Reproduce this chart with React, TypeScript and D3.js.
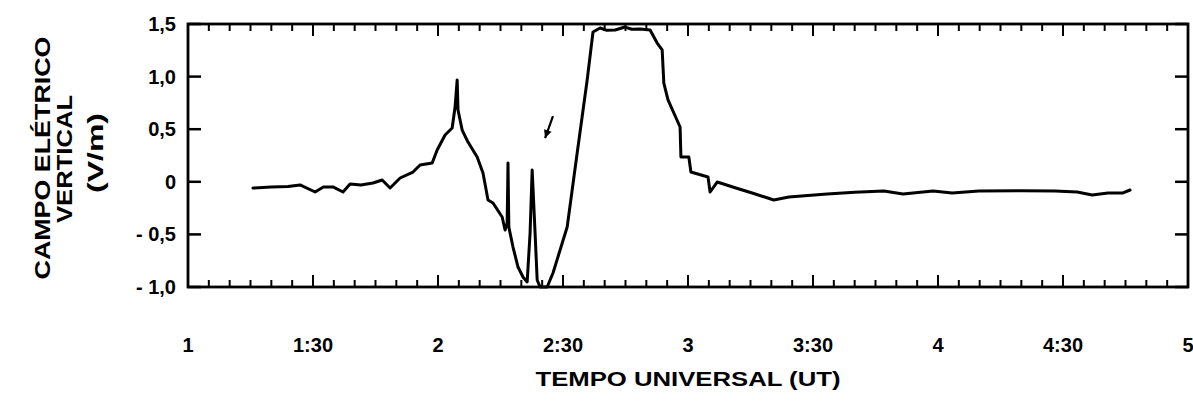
import React from "react";
import * as d3 from "d3";

// time in minutes since 0:00 UT, value in V/m
const traceTime = [75.6, 80.0, 84.0, 86.9, 90.5, 92.5, 94.8, 97.2, 98.9, 101.5, 104.4, 106.6, 108.5, 110.9, 114.0, 115.7, 118.6, 119.8, 121.7, 123.4, 124.1, 124.6, 124.8, 125.8, 127.2, 129.4, 130.8, 132.0, 133.2, 135.4, 136.1, 136.6, 136.8, 137.0, 138.0, 139.2, 140.4, 141.4, 142.1, 142.6, 143.3, 143.8, 144.5, 146.2, 147.6, 151.0, 153.4, 155.8, 157.2, 158.9, 160.5, 162.5, 164.9, 166.5, 168.5, 170.9, 172.6, 173.8, 174.2, 175.2, 178.1, 178.3, 180.2, 180.7, 184.8, 185.3, 187.0, 191.5, 195.4, 200.6, 204.2, 213.4, 220.0, 227.0, 231.6, 238.8, 243.4, 249.8, 260.0, 268.1, 273.4, 277.0, 280.8, 284.4, 286.1];
const traceValue = [-0.06, -0.05, -0.045, -0.03, -0.097, -0.05, -0.049, -0.097, -0.021, -0.03, -0.011, 0.017, -0.059, 0.036, 0.093, 0.16, 0.179, 0.302, 0.445, 0.511, 0.711, 0.968, 0.683, 0.492, 0.378, 0.236, 0.084, -0.173, -0.202, -0.335, -0.458, -0.392, 0.179, -0.43, -0.62, -0.81, -0.905, -0.952, -0.487, 0.112, -0.487, -0.933, -1.0, -1.0, -0.867, -0.43, 0.274, 0.968, 1.424, 1.462, 1.44, 1.443, 1.471, 1.45, 1.452, 1.443, 1.319, 1.253, 0.939, 0.778, 0.521, 0.236, 0.236, 0.093, 0.046, -0.097, -0.002, -0.059, -0.106, -0.173, -0.144, -0.116, -0.1, -0.087, -0.116, -0.087, -0.106, -0.087, -0.085, -0.087, -0.097, -0.125, -0.106, -0.106, -0.078];

const xTickValues = [60, 90, 120, 150, 180, 210, 240, 270, 300];
const xTickLabels = ["1", "1:30", "2", "2:30", "3", "3:30", "4", "4:30", "5"];
const yTickValues = [-1, -0.5, 0, 0.5, 1, 1.5];
const yTickLabels = ["- 1,0", "- 0,5", "0", "0,5", "1,0", "1,5"];
const arrowTime = [147.6, 145.7];
const arrowValue = [0.625, 0.416];

const W = 1193;
const H = 403;
const L = 188, R = 1188, T = 24, B = 287;
const FONT = "'Liberation Sans', Arial, sans-serif";

export default function App() {
  const x = d3.scaleLinear().domain([60, 300]).range([L, R]);
  const y = d3.scaleLinear().domain([-1, 1.5]).range([B, T]);
  const pts: [number, number][] = traceTime.map((t, i) => [t, traceValue[i]]);
  const line = d3.line<[number, number]>().x(d => x(d[0])).y(d => y(d[1]));
  const minor = d3.range(60, 301, 5);

  const ax1 = x(arrowTime[0]), ay1 = y(arrowValue[0]);
  const ax2 = x(arrowTime[1]), ay2 = y(arrowValue[1]);
  const ang = Math.atan2(ay2 - ay1, ax2 - ax1);
  const hl = 8, hw = 4;
  const head = [
    [ax2, ay2],
    [ax2 - hl * Math.cos(ang) + hw * Math.sin(ang), ay2 - hl * Math.sin(ang) - hw * Math.cos(ang)],
    [ax2 - hl * Math.cos(ang) - hw * Math.sin(ang), ay2 - hl * Math.sin(ang) + hw * Math.cos(ang)],
  ].map(p => p.join(",")).join(" ");

  return (
    <svg width={W} height={H} style={{ position: "absolute", left: 0, top: 0, background: "#fff" }} fontFamily={FONT}>
      <rect x={0} y={0} width={W} height={H} fill="#fff" />
      {minor.map(t => {
        const major = (t - 60) % 30 === 0;
        const len = major ? 12 : 7;
        return (
          <g key={t} stroke="#000" strokeWidth={2}>
            <line x1={x(t)} x2={x(t)} y1={T} y2={T + len} />
            <line x1={x(t)} x2={x(t)} y1={B} y2={B - len} />
          </g>
        );
      })}
      {yTickValues.map(v => (
        <g key={v} stroke="#000" strokeWidth={2.5}>
          <line x1={L} x2={L + 13} y1={y(v)} y2={y(v)} />
          <line x1={R} x2={R - 13} y1={y(v)} y2={y(v)} />
        </g>
      ))}
      <rect x={L} y={T} width={R - L} height={B - T} fill="none" stroke="#000" strokeWidth={2.8} />
      <path d={line(pts) || ""} fill="none" stroke="#000" strokeWidth={3} strokeLinejoin="round" strokeLinecap="round" />
      <line x1={ax1} y1={ay1} x2={ax2} y2={ay2} stroke="#000" strokeWidth={2.2} />
      <polygon points={head} fill="#000" />
      {yTickValues.map((v, i) => (
        <text key={v} x={176} y={y(v) + 7} textAnchor="end" fontSize={20} fontWeight="bold">{yTickLabels[i]}</text>
      ))}
      {xTickValues.map((t, i) => (
        <text key={t} x={x(t)} y={352} textAnchor="middle" fontSize={20} fontWeight="bold">{xTickLabels[i]}</text>
      ))}
      <text x={688} y={386} textAnchor="middle" fontSize={21} fontWeight="bold" textLength={305} lengthAdjust="spacingAndGlyphs">TEMPO UNIVERSAL (UT)</text>
      <g fontSize={22} fontWeight="bold" textAnchor="middle">
        <text transform="translate(50,158) rotate(-90)" textLength={243} lengthAdjust="spacingAndGlyphs">CAMPO ELÉTRICO</text>
        <text transform="translate(72,159) rotate(-90)" textLength={128} lengthAdjust="spacingAndGlyphs">VERTICAL</text>
        <text transform="translate(103,153) rotate(-90)" textLength={80} lengthAdjust="spacingAndGlyphs">(V/m)</text>
      </g>
    </svg>
  );
}
